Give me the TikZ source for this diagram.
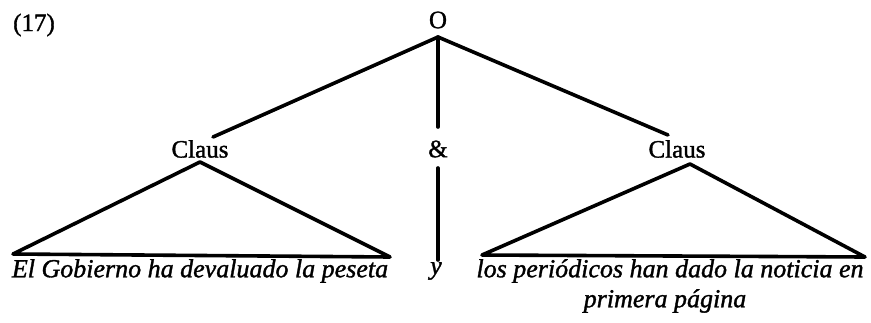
\documentclass[tikz,border=0pt]{standalone}
\usepackage{fontspec}
\setmainfont{Liberation Serif}[ItalicFeatures={FakeBold=1.3}]
\newfontfamily\heavyup{Liberation Serif Bold}[FakeBold=0]
\newfontfamily\semiup{Liberation Serif}[FakeBold=1.3,BoldFont={Liberation Serif}]
\begin{document}
\begin{tikzpicture}[x=1pt,y=-1pt,
  lbl/.style={inner sep=0pt,font=\semiup\fontsize{25}{30}\selectfont},
  ital/.style={inner sep=0pt,font=\fontsize{26}{30}\selectfont\itshape},
  branch/.style={line width=3.6pt,line cap=round,line join=round}]
\useasboundingbox (0,0) rectangle (871,322);
\node[lbl] (num) at (34,25) {(17)};
\node[lbl] (O) at (438,20) {O};
\node[lbl] (claus1) at (200,149) {Claus};
\node[lbl] (amp) at (438,149) {\&};
\node[lbl] (claus2) at (677,149) {Claus};
\node[ital] (s1) at (200,271) {El Gobierno ha devaluado la peseta};
\node[ital] (y) at (436,271) {y};
\node[ital] (s2) at (670,271) {los periódicos han dado la noticia en};
\node[ital] (s2b) at (665,301) {primera página};
% connector end points
\coordinate (top) at (438,37);
\coordinate (c1in) at (213,137);
\coordinate (c2in) at (668,135);
\coordinate (ampin) at (438,127);
\coordinate (ampout) at (438,168);
\coordinate (yin) at (438,260);
\coordinate (t1a) at (200,162);
\coordinate (t1l) at (13,254);
\coordinate (t1r) at (390,257);
\coordinate (t2a) at (690,164);
\coordinate (t2l) at (482,255);
\coordinate (t2r) at (865,257);
\draw[branch] (top) -- (c1in);
\draw[branch] (top) -- (c2in);
\draw[branch] (top) -- (ampin);
\draw[branch] (ampout) -- (yin);
\draw[branch] (t1a) -- (t1l) -- (t1r) -- cycle;
\draw[branch] (t2a) -- (t2l) -- (t2r) -- cycle;
\end{tikzpicture}
\end{document}
